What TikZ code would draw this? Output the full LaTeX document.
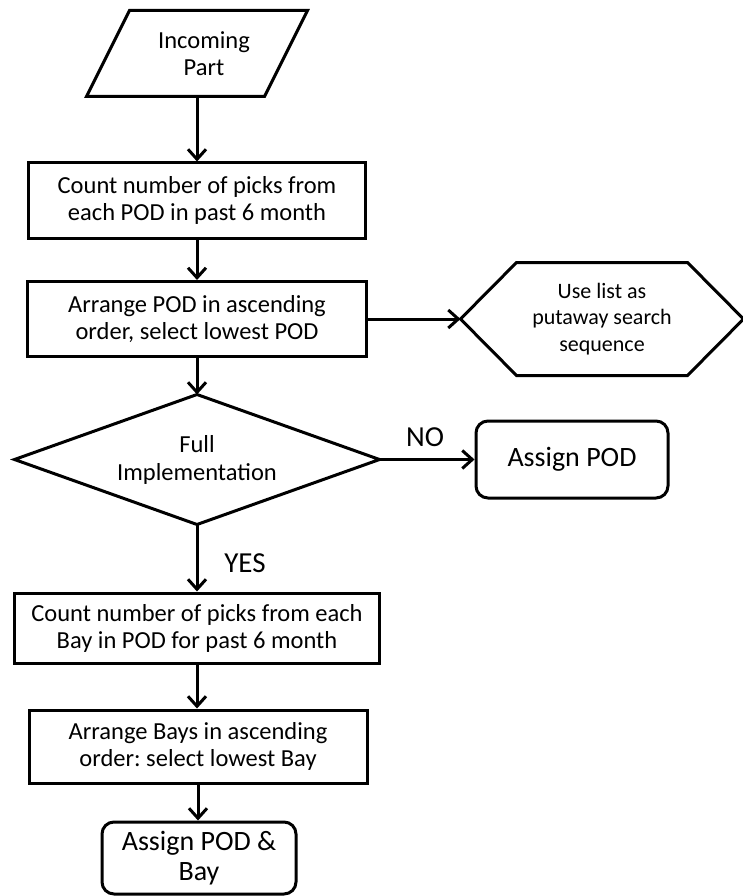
\documentclass[tikz,border=0pt]{standalone}
\usepackage{fontspec}
\setmainfont{Carlito}
\usetikzlibrary{arrows.meta}
\frenchspacing
\begin{document}
\begin{tikzpicture}[x=1pt,y=-1pt,
  line width=3pt,
  box/.style={draw, rectangle, inner sep=0pt, align=center, font=\fontsize{24.5}{27}\selectfont},
  rbox/.style={draw, rectangle, rounded corners=12pt, inner sep=0pt, align=center, font=\fontsize{28}{30}\selectfont},
  frame/.style={rectangle, inner sep=0pt, align=center},
  arr/.style={-{Straight Barb[length=10pt,width=18pt]}},
  lbl/.style={font=\fontsize{29}{30}\selectfont, inner sep=0pt}]
\useasboundingbox (0,0) rectangle (743,896);

% input parallelogram
\node[frame, minimum width=218pt, minimum height=83pt, font=\fontsize{24.5}{27}\selectfont] (inc) at (197,53.5) {\hspace*{14pt}Incoming\\\hspace*{14pt}Part};
\draw ([xshift=43pt]inc.north west) -- (inc.north east) -- ([xshift=-43pt]inc.south east) -- (inc.south west) -- cycle;

\node[box, minimum width=337pt, minimum height=75pt] (b1) at (197,200.5) {Count number of picks from\\each POD in past 6 month};
\node[box, minimum width=339pt, minimum height=75pt] (b2) at (197,319) {Arrange POD in ascending\\order, select lowest POD};

% hexagon
\node[frame, minimum width=280pt, minimum height=110pt, font=\fontsize{22}{26.5}\selectfont] (hex) at (602,319) {Use list as\\putaway search\\sequence};
\draw (hex.west) -- ([xshift=56pt]hex.north west) -- ([xshift=-56pt]hex.north east) -- (hex.east) -- ([xshift=-56pt]hex.south east) -- ([xshift=56pt]hex.south west) -- cycle;

% decision diamond
\node[frame, minimum width=362pt, minimum height=127pt, font=\fontsize{24.5}{28}\selectfont] (dia) at (197,459.5) {\raisebox{-3pt}{\parbox{200pt}{\centering Full\\Implementation}}};
\draw (dia.west) -- (dia.north) -- (dia.east) -- (dia.south) -- cycle;

\node[rbox, minimum width=192pt, minimum height=77pt] (ap) at (572,459.5) {Assign POD};

\node[box, minimum width=365pt, minimum height=70pt] (b3) at (197,628) {Count number of picks from each\\Bay in POD for past 6 month};
\node[box, minimum width=338pt, minimum height=73pt] (b4) at (198,746.5) {Arrange Bays in ascending\\order: select lowest Bay};
\node[rbox, minimum width=194pt, minimum height=72pt] (fin) at (199,858) {Assign POD \&\\Bay};

% labels
\node[lbl] (no) at (425,437) {NO};
\node[lbl] (yes) at (245,563) {YES};

% connectors
\draw[arr] (inc.south) -- (b1.north);
\draw[arr] (b1.south) -- (b2.north);
\draw[arr] (b2.east) -- (hex.west);
\draw[arr] (b2.south) -- (dia.north);
\draw[arr] (dia.east) -- (ap.west);
\draw[arr] (dia.south) -- (b3.north);
\draw[arr] (b3.south) -- (b3.south |- b4.north);
\draw[arr] (b4.south) -- (b4.south |- fin.north);
\end{tikzpicture}
\end{document}
